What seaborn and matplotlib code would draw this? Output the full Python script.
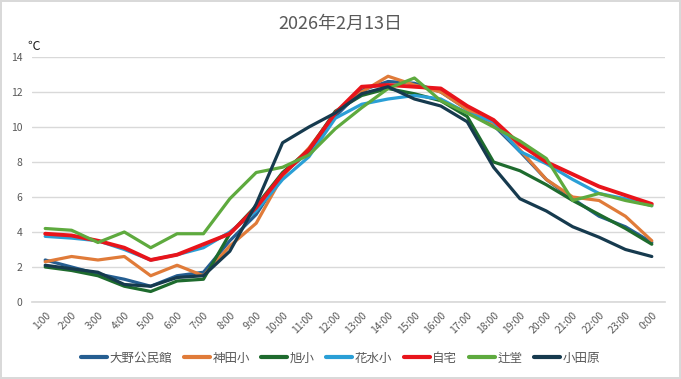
import matplotlib
matplotlib.use("Agg")
import matplotlib.pyplot as plt
import seaborn as sns
import pandas as pd
import numpy as np
from matplotlib.lines import Line2D

hours = ["1:00", "2:00", "3:00", "4:00", "5:00", "6:00", "7:00", "8:00", "9:00", "10:00",
         "11:00", "12:00", "13:00", "14:00", "15:00", "16:00", "17:00", "18:00", "19:00",
         "20:00", "21:00", "22:00", "23:00", "0:00"]

ono = [2.4, 2.0, 1.6, 1.3, 0.9, 1.5, 1.7, 3.5, 5.0, 7.3, 8.6, 10.6, 12.1, 12.6, 12.5, 12.0,
       11.0, 10.1, 8.6, 7.0, 5.9, 4.9, 4.3, 3.4]
kanda = [2.3, 2.6, 2.4, 2.6, 1.5, 2.1, 1.5, 3.2, 4.5, 7.2, 8.8, 10.8, 12.0, 12.9, 12.4, 12.0,
         11.0, 10.2, 8.7, 7.0, 6.0, 5.8, 4.9, 3.5]
asahi = [2.0, 1.8, 1.5, 0.9, 0.6, 1.2, 1.3, 3.9, 5.5, 7.4, 8.7, 10.9, 11.8, 12.2, 11.9, 11.5,
         10.6, 8.0, 7.5, 6.7, 5.8, 5.0, 4.2, 3.3]
hanamizu = [3.75, 3.65, 3.5, 3.0, 2.4, 2.7, 3.1, 4.0, 5.2, 7.0, 8.3, 10.5, 11.3, 11.6, 11.8,
            11.6, 10.8, 10.3, 8.6, 7.9, 7.0, 6.2, 5.9, 5.5]
jitaku = [3.9, 3.8, 3.5, 3.1, 2.4, 2.7, 3.3, 3.9, 5.4, 7.3, 8.7, 10.8, 12.3, 12.4, 12.3, 12.2,
          11.2, 10.4, 9.0, 8.0, 7.3, 6.6, 6.1, 5.6]
tsujido = [4.2, 4.1, 3.4, 4.0, 3.1, 3.9, 3.9, 5.9, 7.4, 7.7, 8.4, 9.9, 11.1, 12.2, 12.8, 11.5,
           10.8, 10.0, 9.2, 8.2, 5.8, 6.2, 5.8, 5.5]
odawara = [2.1, 1.9, 1.7, 1.0, 0.9, 1.4, 1.5, 2.9, 5.6, 9.1, 10.0, 10.8, 11.9, 12.3, 11.6,
           11.2, 10.3, 7.7, 5.9, 5.2, 4.3, 3.7, 3.0, 2.6]

stations = ["大野公民館", "神田小", "旭小", "花水小", "自宅", "辻堂", "小田原"]
series = [ono, kanda, asahi, hanamizu, jitaku, tsujido, odawara]
colors = ["#255E91", "#E07B39", "#1E6B2E", "#2A9FD6", "#E8141B", "#5EAA3E", "#163A4E"]

rows = []
for name, vals in zip(stations, series):
    for i, v in enumerate(vals):
        rows.append({"pos": i, "station": name, "temp": v})
df = pd.DataFrame(rows)

sns.set_theme(style="white")
plt.rcParams["font.family"] = ["Noto Sans CJK JP", "DejaVu Sans"]

fig = plt.figure(figsize=(6.81, 3.79), dpi=100)
fig.patch.set_facecolor("white")
fig.patch.set_edgecolor("#D9D9D9")
fig.patch.set_linewidth(1.5)
ax = fig.add_axes([0.047, 0.2032, 0.9295, 0.6464])

sns.lineplot(data=df, x="pos", y="temp", hue="station", hue_order=stations,
             palette=dict(zip(stations, colors)), linewidth=2.3, ax=ax,
             legend=False, sort=False)
for line, name in zip(ax.lines, stations):
    if name == "自宅":
        line.set_linewidth(2.8)
    line.set_solid_joinstyle("round")
    line.set_solid_capstyle("round")

ax.set_xlim(-0.5, 23.5)
ax.set_ylim(0, 14)
ax.set_yticks(np.arange(0, 15, 2))
ax.set_xticks(range(len(hours)))
ax.set_xticklabels(hours, rotation=45, ha="right", rotation_mode="anchor")
ax.tick_params(axis="both", length=0, labelsize=7.5, colors="#595959")
ax.tick_params(axis="x", pad=6)
ax.tick_params(axis="y", pad=7)
ax.yaxis.grid(True, color="#D9D9D9", linewidth=1)
ax.set_axisbelow(True)
for s in ["top", "right", "left"]:
    ax.spines[s].set_visible(False)
ax.spines["bottom"].set_color("#D9D9D9")
ax.set_xlabel("")
ax.set_ylabel("")

fig.text(0.5, 0.938, "2026年2月13日", ha="center", va="center", fontsize=13, color="#595959")
fig.text(0.04, 0.878, "℃", ha="left", va="center", fontsize=9, color="#222222")

handles = [Line2D([0], [0], color=c, linewidth=3) for c in colors]
fig.legend(handles, stations, loc="center", bbox_to_anchor=(0.5, 0.055), ncol=7,
           frameon=False, fontsize=9, handlelength=2.1, handletextpad=0.2,
           columnspacing=0.9, labelcolor="#595959")

fig.savefig("out.png", dpi=100, facecolor=fig.get_facecolor(), edgecolor=fig.get_edgecolor())
